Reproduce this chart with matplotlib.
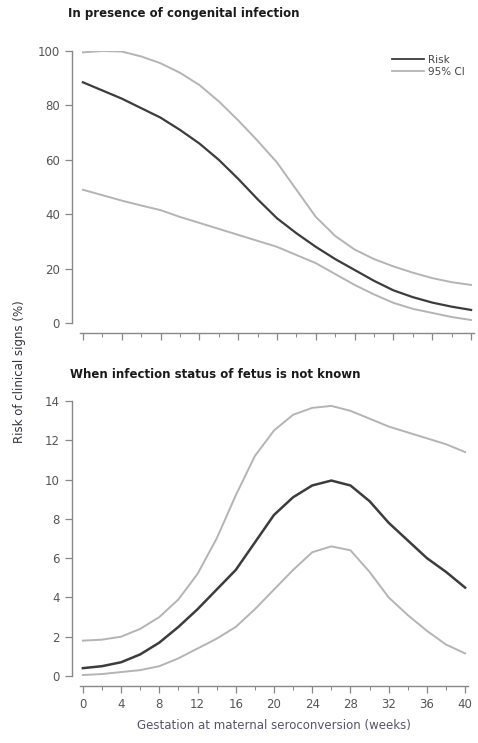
import numpy as np
import matplotlib
matplotlib.use('Agg')
import matplotlib.pyplot as plt
from matplotlib.ticker import MultipleLocator

weeks = list(range(0, 41, 2))

# in presence of congenital infection (%)
top_risk = [88.5, 85.5, 82.5, 79, 75.5, 71, 66, 60, 53, 45.5, 38.5,
            33, 28, 23.5, 19.5, 15.5, 12, 9.5, 7.5, 6, 4.8]
top_upper = [99.5, 100, 99.8, 98, 95.5, 92, 87.5, 81.5, 74.5, 67, 59,
             49, 39, 32, 27, 23.5, 20.8, 18.5, 16.5, 15, 14]
top_lower = [49, 47, 45, 43.2, 41.5, 39, 36.8, 34.6, 32.4, 30.2, 28,
             25, 22, 18, 14, 10.5, 7.4, 5.2, 3.7, 2.2, 1.1]

# infection status of fetus not known (%)
bot_risk = [0.4, 0.5, 0.7, 1.1, 1.7, 2.5, 3.4, 4.4, 5.4, 6.8, 8.2,
            9.1, 9.7, 9.95, 9.7, 8.9, 7.8, 6.9, 6.0, 5.3, 4.5]
bot_upper = [1.8, 1.85, 2.0, 2.4, 3.0, 3.9, 5.2, 7.0, 9.2, 11.2, 12.5,
             13.3, 13.65, 13.75, 13.5, 13.1, 12.7, 12.4, 12.1, 11.8, 11.4]
bot_lower = [0.05, 0.1, 0.2, 0.3, 0.5, 0.9, 1.4, 1.9, 2.5, 3.4, 4.4,
             5.4, 6.3, 6.6, 6.4, 5.3, 4.0, 3.1, 2.3, 1.6, 1.15]

RISK_C = '#3c3c3c'
CI_C = '#b4b4b4'
TXT = '#333340'

plt.rcParams['font.family'] = ['DejaVu Sans']

fig = plt.figure(figsize=(4.78, 7.43), dpi=100)
W, H = 478, 743


def make_ax(x0, x1, y_top, y_bot):
    return fig.add_axes([x0 / W, 1 - y_bot / H, (x1 - x0) / W, (y_bot - y_top) / H])


ax1 = make_ax(80, 474, 51, 323)
ax2 = make_ax(80, 468, 401, 676)

for ax in (ax1, ax2):
    for s in ('top', 'right'):
        ax.spines[s].set_visible(False)
    ax.spines['left'].set_position(('outward', 6))
    ax.spines['bottom'].set_position(('outward', 7))
    for s in ('left', 'bottom'):
        ax.spines[s].set_color('#888888')
        ax.spines[s].set_linewidth(1.0)
    ax.set_xlim(-0.3, 40.3)
    ax.xaxis.set_major_locator(MultipleLocator(4))
    ax.xaxis.set_minor_locator(MultipleLocator(2))
    ax.tick_params(colors='#888888', labelcolor='#555555', labelsize=8.5,
                   length=5, width=0.9)
    ax.tick_params(which='minor', colors='#888888', length=3, width=0.7)

ax1.plot(weeks, top_upper, color=CI_C, lw=1.4)
ax1.plot(weeks, top_lower, color=CI_C, lw=1.4)
ax1.plot(weeks, top_risk, color=RISK_C, lw=1.6)
ax1.set_ylim(0, 100)
ax1.yaxis.set_major_locator(MultipleLocator(20))
ax1.tick_params(axis='x', labelbottom=False)

ax2.plot(weeks, bot_upper, color=CI_C, lw=1.4)
ax2.plot(weeks, bot_lower, color=CI_C, lw=1.4)
ax2.plot(weeks, bot_risk, color=RISK_C, lw=1.8)
ax2.set_ylim(0, 14)
ax2.yaxis.set_major_locator(MultipleLocator(2))
ax2.set_xticks(range(0, 41, 4))
ax2.set_xlabel('Gestation at maternal seroconversion (weeks)', fontsize=8.5,
               color='#555566', labelpad=6)

# legend
ax1.plot([], [], color=RISK_C, lw=1.3, label='Risk')
ax1.plot([], [], color=CI_C, lw=1.3, label='95% CI')
handles = ax1.get_lines()[-2:]
ax1.legend(handles=handles, loc='upper right', frameon=False, fontsize=7.5,
           handlelength=3.0, handletextpad=0.4, labelspacing=0.2,
           bbox_to_anchor=(1.0, 1.02), labelcolor='#444444')

fig.text(68 / W, 1 - 14 / H, 'In presence of congenital infection', fontsize=8.5,
         fontweight='bold', color='#1a1a1a', va='center', ha='left')
fig.text(70 / W, 1 - 375 / H, 'When infection status of fetus is not known',
         fontsize=8.5, fontweight='bold', color='#1a1a1a', va='center', ha='left')
fig.text(20 / W, 1 - 372 / H, 'Risk of clinical signs (%)', fontsize=8.5,
         rotation=90, color=TXT, va='center', ha='center')

fig.savefig('out.png', dpi=100)
